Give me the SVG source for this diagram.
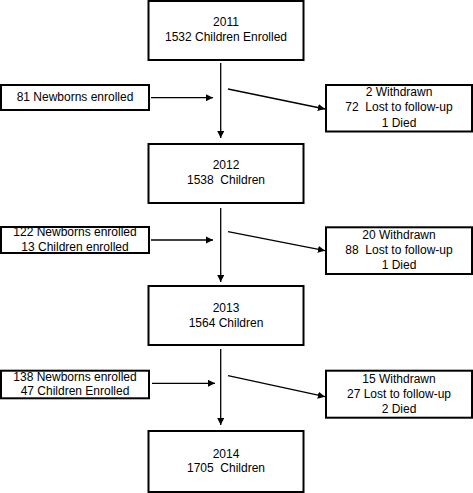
<svg xmlns="http://www.w3.org/2000/svg" width="473" height="493" viewBox="0 0 473 493">
<defs>
<style>
.box{fill:#fff;stroke:#000;stroke-width:2}
.t{font-family:"Liberation Sans",Arial,sans-serif;font-size:12px;fill:#000;text-anchor:middle;white-space:pre}
.c{stroke:#000;stroke-width:1.3;fill:none;marker-end:url(#ah)}
</style>
<marker id="ah" viewBox="0 0 10 10" refX="10" refY="5" markerWidth="5.5" markerHeight="5.5" markerUnits="strokeWidth" orient="auto">
<path d="M0,0 L10,5 L0,10 z" fill="#000"/>
</marker>
</defs>
<rect width="473" height="493" fill="#fff"/>
<g id="connectors">
<line class="c" x1="220.7" y1="63" x2="220.7" y2="138"/>
<line class="c" x1="151" y1="97.7" x2="213" y2="97.7"/>
<line class="c" x1="228" y1="89" x2="325" y2="109"/>
<line class="c" x1="220.7" y1="208" x2="220.7" y2="282"/>
<line class="c" x1="151" y1="240" x2="213" y2="240"/>
<line class="c" x1="228" y1="231.7" x2="325" y2="250.7"/>
<line class="c" x1="220.7" y1="349" x2="220.7" y2="425"/>
<line class="c" x1="152" y1="383.3" x2="215" y2="383.3"/>
<line class="c" x1="228" y1="375.7" x2="325" y2="396.7"/>
</g>
<g id="y2011">
<rect class="box" x="148.5" y="1" width="155" height="59"/>
<text class="t" x="226" y="26">2011</text>
<text class="t" x="226" y="41">1532 Children Enrolled</text>
</g>
<g id="in2012">
<rect class="box" x="1" y="85" width="148" height="25"/>
<text class="t" x="75" y="101">81 Newborns enrolled</text>
</g>
<g id="out2012">
<rect class="box" x="326" y="85" width="146" height="46.5"/>
<text class="t" x="399" y="96">2 Withdrawn</text>
<text class="t" x="399" y="111" xml:space="preserve">72  Lost to follow-up</text>
<text class="t" x="399" y="126.5">1 Died</text>
</g>
<g id="y2012">
<rect class="box" x="148.5" y="144" width="155" height="59"/>
<text class="t" x="226" y="169">2012</text>
<text class="t" x="226" y="184" xml:space="preserve">1538  Children</text>
</g>
<g id="in2013">
<rect class="box" x="1" y="227" width="148" height="26"/>
<text class="t" x="75" y="236">122 Newborns enrolled</text>
<text class="t" x="75" y="250.7">13 Children enrolled</text>
</g>
<g id="out2013">
<rect class="box" x="326" y="227.3" width="146" height="46.7"/>
<text class="t" x="399" y="239">20 Withdrawn</text>
<text class="t" x="399" y="254" xml:space="preserve">88  Lost to follow-up</text>
<text class="t" x="399" y="269">1 Died</text>
</g>
<g id="y2013">
<rect class="box" x="148.5" y="286" width="155" height="59"/>
<text class="t" x="226" y="311.7">2013</text>
<text class="t" x="226" y="326.7">1564 Children</text>
</g>
<g id="in2014">
<rect class="box" x="1" y="370.7" width="148" height="27.6"/>
<text class="t" x="75" y="381">138 Newborns enrolled</text>
<text class="t" x="75" y="395">47 Children Enrolled</text>
</g>
<g id="out2014">
<rect class="box" x="326" y="370.7" width="146" height="47"/>
<text class="t" x="399" y="383.3">15 Withdrawn</text>
<text class="t" x="399" y="397.7">27 Lost to follow-up</text>
<text class="t" x="399" y="412.7">2 Died</text>
</g>
<g id="y2014">
<rect class="box" x="148.5" y="431" width="155" height="61"/>
<text class="t" x="226" y="457.7">2014</text>
<text class="t" x="226" y="472.3" xml:space="preserve">1705  Children</text>
</g>
</svg>
